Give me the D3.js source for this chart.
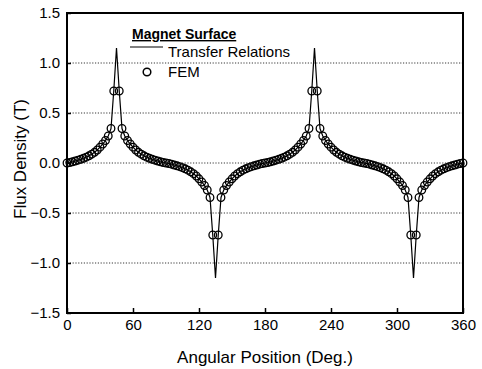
<!DOCTYPE html>
<html>
<head>
<meta charset="utf-8">
<script src="https://cdn.jsdelivr.net/npm/d3@7"></script>
<style>
	body { margin: 0; background: #fff; }
	svg { display: block; font-family: Arial, "Liberation Sans", sans-serif; }
</style>
</head>
<body>
<script>
// angular positions (deg) sampled every 2.5 deg
var angles = [
	0, 2.5, 5, 7.5, 10, 12.5, 15, 17.5, 20, 22.5,
	25, 27.5, 30, 32.5, 35, 37.5, 40, 42.5, 45, 47.5,
	50, 52.5, 55, 57.5, 60, 62.5, 65, 67.5, 70, 72.5,
	75, 77.5, 80, 82.5, 85, 87.5, 90, 92.5, 95, 97.5,
	100, 102.5, 105, 107.5, 110, 112.5, 115, 117.5, 120, 122.5,
	125, 127.5, 130, 132.5, 135, 137.5, 140, 142.5, 145, 147.5,
	150, 152.5, 155, 157.5, 160, 162.5, 165, 167.5, 170, 172.5,
	175, 177.5, 180, 182.5, 185, 187.5, 190, 192.5, 195, 197.5,
	200, 202.5, 205, 207.5, 210, 212.5, 215, 217.5, 220, 222.5,
	225, 227.5, 230, 232.5, 235, 237.5, 240, 242.5, 245, 247.5,
	250, 252.5, 255, 257.5, 260, 262.5, 265, 267.5, 270, 272.5,
	275, 277.5, 280, 282.5, 285, 287.5, 290, 292.5, 295, 297.5,
	300, 302.5, 305, 307.5, 310, 312.5, 315, 317.5, 320, 322.5,
	325, 327.5, 330, 332.5, 335, 337.5, 340, 342.5, 345, 347.5,
	350, 352.5, 355, 357.5, 360
];

// Transfer Relations (T)
var transferB = [
	0, 0.005, 0.012, 0.02, 0.028, 0.037, 0.047, 0.058, 0.072, 0.088,
	0.107, 0.13, 0.158, 0.19, 0.225, 0.27, 0.345, 0.72, 1.15, 0.72,
	0.345, 0.27, 0.225, 0.19, 0.158, 0.13, 0.107, 0.088, 0.072, 0.058,
	0.047, 0.037, 0.028, 0.02, 0.012, 0.005, 0, -0.005, -0.012, -0.02,
	-0.028, -0.037, -0.047, -0.058, -0.072, -0.088, -0.107, -0.13, -0.158, -0.19,
	-0.225, -0.27, -0.345, -0.72, -1.15, -0.72, -0.345, -0.27, -0.225, -0.19,
	-0.158, -0.13, -0.107, -0.088, -0.072, -0.058, -0.047, -0.037, -0.028, -0.02,
	-0.012, -0.005, 0, 0.005, 0.012, 0.02, 0.028, 0.037, 0.047, 0.058,
	0.072, 0.088, 0.107, 0.13, 0.158, 0.19, 0.225, 0.27, 0.345, 0.72,
	1.15, 0.72, 0.345, 0.27, 0.225, 0.19, 0.158, 0.13, 0.107, 0.088,
	0.072, 0.058, 0.047, 0.037, 0.028, 0.02, 0.012, 0.005, 0, -0.005,
	-0.012, -0.02, -0.028, -0.037, -0.047, -0.058, -0.072, -0.088, -0.107, -0.13,
	-0.158, -0.19, -0.225, -0.27, -0.345, -0.72, -1.15, -0.72, -0.345, -0.27,
	-0.225, -0.19, -0.158, -0.13, -0.107, -0.088, -0.072, -0.058, -0.047, -0.037,
	-0.028, -0.02, -0.012, -0.005, 0
];

// FEM (T), no sample right at the pole edges
var femB = [
	0, 0.005, 0.012, 0.02, 0.028, 0.037, 0.047, 0.058, 0.072, 0.088,
	0.107, 0.13, 0.158, 0.19, 0.225, 0.27, 0.345, 0.72, null, 0.72,
	0.345, 0.27, 0.225, 0.19, 0.158, 0.13, 0.107, 0.088, 0.072, 0.058,
	0.047, 0.037, 0.028, 0.02, 0.012, 0.005, 0, -0.005, -0.012, -0.02,
	-0.028, -0.037, -0.047, -0.058, -0.072, -0.088, -0.107, -0.13, -0.158, -0.19,
	-0.225, -0.27, -0.345, -0.72, null, -0.72, -0.345, -0.27, -0.225, -0.19,
	-0.158, -0.13, -0.107, -0.088, -0.072, -0.058, -0.047, -0.037, -0.028, -0.02,
	-0.012, -0.005, 0, 0.005, 0.012, 0.02, 0.028, 0.037, 0.047, 0.058,
	0.072, 0.088, 0.107, 0.13, 0.158, 0.19, 0.225, 0.27, 0.345, 0.72,
	null, 0.72, 0.345, 0.27, 0.225, 0.19, 0.158, 0.13, 0.107, 0.088,
	0.072, 0.058, 0.047, 0.037, 0.028, 0.02, 0.012, 0.005, 0, -0.005,
	-0.012, -0.02, -0.028, -0.037, -0.047, -0.058, -0.072, -0.088, -0.107, -0.13,
	-0.158, -0.19, -0.225, -0.27, -0.345, -0.72, null, -0.72, -0.345, -0.27,
	-0.225, -0.19, -0.158, -0.13, -0.107, -0.088, -0.072, -0.058, -0.047, -0.037,
	-0.028, -0.02, -0.012, -0.005, 0
];

var xTicks = [0, 60, 120, 180, 240, 300, 360];
var yTicks = [-1.5, -1.0, -0.5, 0.0, 0.5, 1.0, 1.5];
var gridValues = [-1.0, -0.5, 0.0, 0.5, 1.0];

var width = 482, height = 369;
var margin = {top: 13, right: 19, bottom: 56, left: 67};
var w = width - margin.left - margin.right;
var h = height - margin.top - margin.bottom;

var svg = d3.select("body").append("svg")
	.attr("width", width)
	.attr("height", height);

var g = svg.append("g")
	.attr("transform", "translate(" + margin.left + "," + margin.top + ")");

var x = d3.scaleLinear().domain([0, 360]).range([0, w]);
var y = d3.scaleLinear().domain([-1.5, 1.5]).range([h, 0]);

// dotted grid
g.append("g").selectAll("line")
	.data(gridValues).enter().append("line")
		.attr("x1", 0).attr("x2", w)
		.attr("y1", function(d){ return y(d); })
		.attr("y2", function(d){ return y(d); })
		.style("stroke", "#222")
		.style("stroke-width", 0.9)
		.style("stroke-dasharray", "1.2,1.6");

// axes (ticks point inward)
var xAxis = g.append("g")
	.attr("transform", "translate(0," + h + ")")
	.call(d3.axisBottom(x).tickValues(xTicks).tickSize(-5).tickPadding(6).tickFormat(d3.format("d")));
var yAxis = g.append("g")
	.call(d3.axisLeft(y).tickValues(yTicks).tickSize(-4).tickPadding(7).tickFormat(d3.format(".1f")));

[xAxis, yAxis].forEach(function(a){
	a.select(".domain").remove();
	a.selectAll("line").style("stroke", "#000").style("stroke-width", 1.5);
	a.selectAll("text")
		.style("font-family", "Arial, 'Liberation Sans', sans-serif")
		.style("font-size", "15px")
		.style("fill", "#000");
});

// transfer relations curve
var line = d3.line()
	.x(function(d){ return x(d[0]); })
	.y(function(d){ return y(d[1]); });

g.append("path")
	.datum(angles.map(function(a, i){ return [a, transferB[i]]; }))
	.attr("d", line)
	.style("fill", "none")
	.style("stroke", "#000")
	.style("stroke-width", 1.2);

// FEM circles
g.append("g").selectAll("circle")
	.data(angles.map(function(a, i){ return [a, femB[i]]; }).filter(function(d){ return d[1] !== null; }))
	.enter().append("circle")
		.attr("cx", function(d){ return x(d[0]); })
		.attr("cy", function(d){ return y(d[1]); })
		.attr("r", 3.8)
		.style("fill", "none")
		.style("stroke", "#000")
		.style("stroke-width", 1.3);

// frame
g.append("rect")
	.attr("width", w).attr("height", h)
	.style("fill", "none")
	.style("stroke", "#000")
	.style("stroke-width", 2);

// axis titles
svg.append("text")
	.attr("x", margin.left + w/2)
	.attr("y", 363)
	.attr("text-anchor", "middle")
	.style("font-size", "17px")
	.text("Angular Position (Deg.)");

svg.append("text")
	.attr("transform", "translate(26,159)rotate(-90)")
	.attr("text-anchor", "middle")
	.style("font-size", "17px")
	.text("Flux Density (T)");

// legend
var leg = svg.append("g");
leg.append("text")
	.attr("x", 132).attr("y", 39)
	.style("font-size", "14px")
	.style("font-weight", "bold")
	.style("text-decoration", "underline")
	.text("Magnet Surface");
leg.append("line")
	.attr("x1", 130).attr("x2", 163)
	.attr("y1", 47).attr("y2", 47)
	.style("stroke", "#000")
	.style("stroke-width", 1.2);
leg.append("text")
	.attr("x", 168).attr("y", 57)
	.style("font-size", "15px")
	.text("Transfer Relations");
leg.append("circle")
	.attr("cx", 147).attr("cy", 72).attr("r", 3.8)
	.style("fill", "none")
	.style("stroke", "#000")
	.style("stroke-width", 1.5);
leg.append("text")
	.attr("x", 168).attr("y", 77)
	.style("font-size", "15px")
	.text("FEM");
</script>
</body>
</html>
